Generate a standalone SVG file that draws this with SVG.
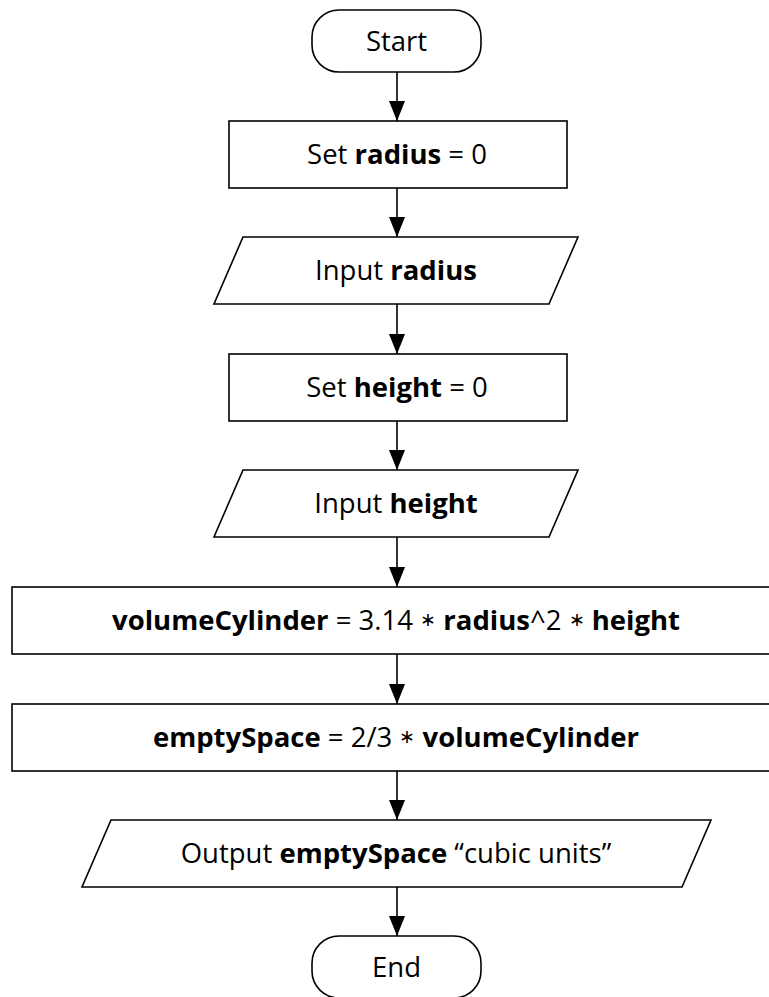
<svg xmlns="http://www.w3.org/2000/svg" width="769" height="997" viewBox="0 0 769 997">
<style>
.s{fill:#fff;stroke:#000;stroke-width:1.6}
.t{font-family:"Open Sans","Noto Sans",sans-serif;font-size:27.5px;fill:#000;text-anchor:middle;dominant-baseline:central}
.b{font-weight:bold}
.a{font-size:19px}
.c{stroke:#000;stroke-width:1.6;fill:none;marker-end:url(#ah)}
</style>
<defs>
<marker id="ah" markerWidth="20" markerHeight="16" refX="20" refY="8" orient="auto" markerUnits="userSpaceOnUse" viewBox="0 0 20 16">
<path d="M0,0 L20,8 L0,16 Z" fill="#000"/>
</marker>
</defs>
<rect width="769" height="997" fill="#fff"/>
<g id="connectors">
<line class="c" x1="397" y1="72" x2="397" y2="121"/>
<line class="c" x1="397" y1="188" x2="397" y2="237"/>
<line class="c" x1="397" y1="304" x2="397" y2="354"/>
<line class="c" x1="397" y1="421" x2="397" y2="470"/>
<line class="c" x1="397" y1="537" x2="397" y2="587"/>
<line class="c" x1="397" y1="654" x2="397" y2="704"/>
<line class="c" x1="397" y1="771" x2="397" y2="820"/>
<line class="c" x1="397" y1="887" x2="397" y2="936"/>
</g>
<g id="start"><rect class="s" x="312" y="10" width="169" height="62" rx="27"/><text class="t" x="396.5" y="40">Start</text></g>
<g id="setRadius"><rect class="s" x="229" y="121" width="338" height="67"/><text class="t" x="397" y="153">Set <tspan class="b">radius</tspan> = 0</text></g>
<g id="inputRadius"><polygon class="s" points="243,237 578,237 549,304 214,304"/><text class="t" x="396" y="269">Input <tspan class="b">radius</tspan></text></g>
<g id="setHeight"><rect class="s" x="229" y="354" width="338" height="67"/><text class="t" x="397" y="386">Set <tspan class="b">height</tspan> = 0</text></g>
<g id="inputHeight"><polygon class="s" points="243,470 578,470 549,537 214,537"/><text class="t" x="396" y="502">Input <tspan class="b">height</tspan></text></g>
<g id="volume"><rect class="s" x="12" y="587" width="770" height="67"/><text class="t" x="396" y="619"><tspan class="b">volumeCylinder</tspan> = 3.14 <tspan class="a">∗</tspan> <tspan class="b">radius</tspan>^2 <tspan class="a">∗</tspan> <tspan class="b">height</tspan></text></g>
<g id="empty"><rect class="s" x="12" y="704" width="770" height="67"/><text class="t" x="396" y="736"><tspan class="b">emptySpace</tspan> = 2/3 <tspan class="a">∗</tspan> <tspan class="b">volumeCylinder</tspan></text></g>
<g id="output"><polygon class="s" points="111,820 711,820 682,887 82,887"/><text class="t" x="396" y="852">Output <tspan class="b">emptySpace</tspan> “cubic units”</text></g>
<g id="end"><rect class="s" x="312" y="936" width="169" height="62" rx="27"/><text class="t" x="396.5" y="966">End</text></g>
</svg>
